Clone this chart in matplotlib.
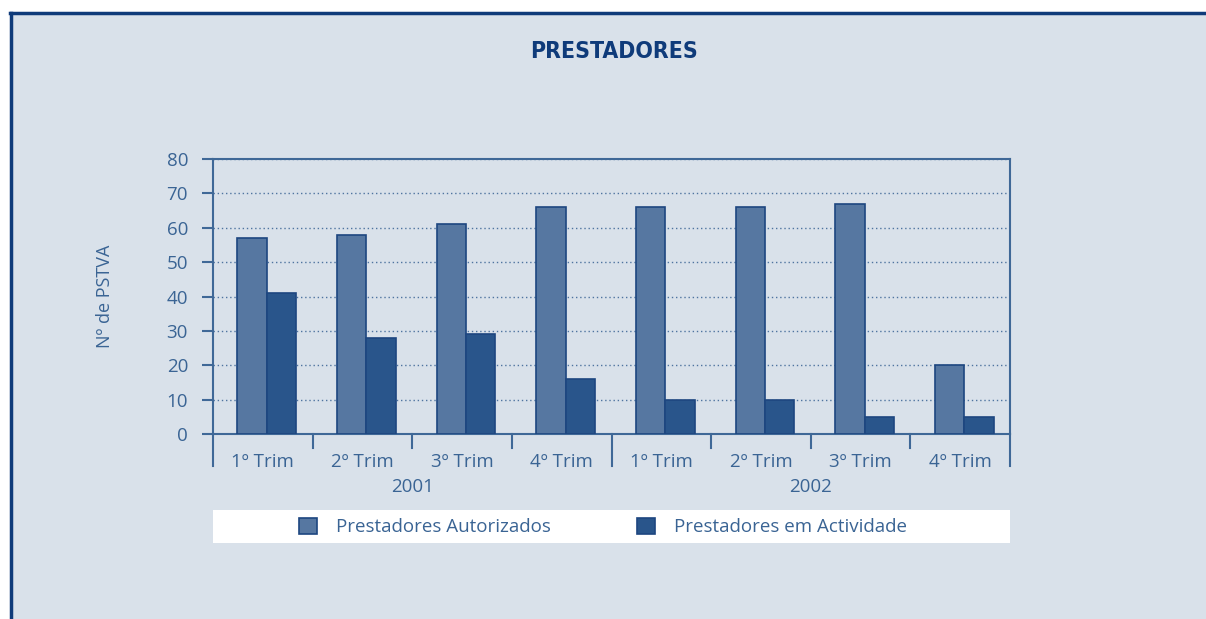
import matplotlib
matplotlib.use("Agg")
import matplotlib.pyplot as plt
from matplotlib.patches import Rectangle
import matplotlib.transforms as mtransforms

# data
trimestres = ["1º Trim", "2º Trim", "3º Trim", "4º Trim", "1º Trim", "2º Trim", "3º Trim", "4º Trim"]
anos = ["2001", "2002"]
autorizados = [57, 58, 61, 66, 66, 66, 67, 20]
actividade = [41, 28, 29, 16, 10, 10, 5, 5]
serie_nomes = ["Prestadores Autorizados", "Prestadores em Actividade"]

# colours
fundo = "#d9e1ea"
navy = "#0f3b7a"
texto = "#3a6494"
cor_aut = "#5677a1"
cor_act = "#29558b"
cor_borda = "#1d4680"

plt.rcParams["font.family"] = ["Open Sans", "DejaVu Sans"]

W, H = 1206, 619
fig = plt.figure(figsize=(W / 100, H / 100), dpi=100)
fig.patch.set_facecolor("white")

# panel background and border
fig.add_artist(Rectangle((10 / W, 0), 1, (H - 13) / H, transform=fig.transFigure,
                         facecolor=fundo, edgecolor="none", zorder=0))
fig.add_artist(plt.Line2D([10 / W, 1], [(H - 13) / H] * 2, transform=fig.transFigure,
                          color=navy, linewidth=2.5, zorder=1))
fig.add_artist(plt.Line2D([10.5 / W] * 2, [0, (H - 13) / H], transform=fig.transFigure,
                          color=navy, linewidth=2.5, zorder=1))

fig.text(614 / W, 1 - 52 / H, "PRESTADORES", ha="center", va="center",
         fontsize=16.5, fontweight="bold", color=navy, fontstretch="condensed",
         family=["DejaVu Sans"])

left, right, top, bottom = 213, 1010, 159, 434
ax = fig.add_axes([left / W, 1 - bottom / H, (right - left) / W, (bottom - top) / H])
ax.set_facecolor("none")

n = len(trimestres)
x = list(range(n))
bw = 0.295
off = 0.04
ax.bar([i + off - bw / 2 for i in x], autorizados, width=bw, color=cor_aut,
       edgecolor=cor_borda, linewidth=1.2, label=serie_nomes[0], zorder=3)
ax.bar([i + off + bw / 2 for i in x], actividade, width=bw, color=cor_act,
       edgecolor=cor_borda, linewidth=1.2, label=serie_nomes[1], zorder=3)

ax.set_xlim(-0.5, n - 0.5)
ax.set_ylim(0, 80)
ax.set_yticks(range(0, 81, 10))
ax.yaxis.grid(True, linestyle=(0, (1, 2)), color="#4f74a0", linewidth=1.0)
ax.set_axisbelow(True)

for s in ["left", "right", "top", "bottom"]:
    ax.spines[s].set_color("#3f6897")
    ax.spines[s].set_linewidth(1.5)

ax.tick_params(axis="y", direction="out", length=8, width=1.5, color="#3f6897",
               labelsize=13.5, labelcolor=texto, pad=10)
ax.set_xticks(x)
ax.set_xticklabels(trimestres)
ax.tick_params(axis="x", length=0, labelsize=13.5, labelcolor=texto, pad=14)

# category separators below the axis
trans = mtransforms.blended_transform_factory(ax.transData, ax.transAxes)
h = bottom - top
for b in range(n + 1):
    xb = b - 0.5
    comprido = b in (0, n // 2, n)
    y_end = -(32 if comprido else 14) / h
    ax.plot([xb, xb], [0, y_end], transform=trans, color="#3f6897",
            linewidth=1.5, clip_on=False)

for k, ano in enumerate(anos):
    ax.text(k * 4 + 1.5, -53 / h, ano, transform=trans, ha="center", va="center",
            fontsize=13.5, color=texto)

ax.set_ylabel("Nº de PSTVA", fontsize=13, color=texto, labelpad=38)

# legend box
fig.add_artist(Rectangle((left / W, 1 - 543 / H), (right - left) / W, 33 / H,
                         transform=fig.transFigure, facecolor="white",
                         edgecolor="none", zorder=1))
leg = fig.legend(loc="center", bbox_to_anchor=(603 / W, 1 - 527 / H), ncol=2,
                 frameon=False, fontsize=13.5, handlelength=0.95, handleheight=0.95,
                 handletextpad=1.0, columnspacing=4.6)
for t in leg.get_texts():
    t.set_color(texto)
leg.set_zorder(2)

fig.savefig("out.png", dpi=100, facecolor=fig.get_facecolor())
